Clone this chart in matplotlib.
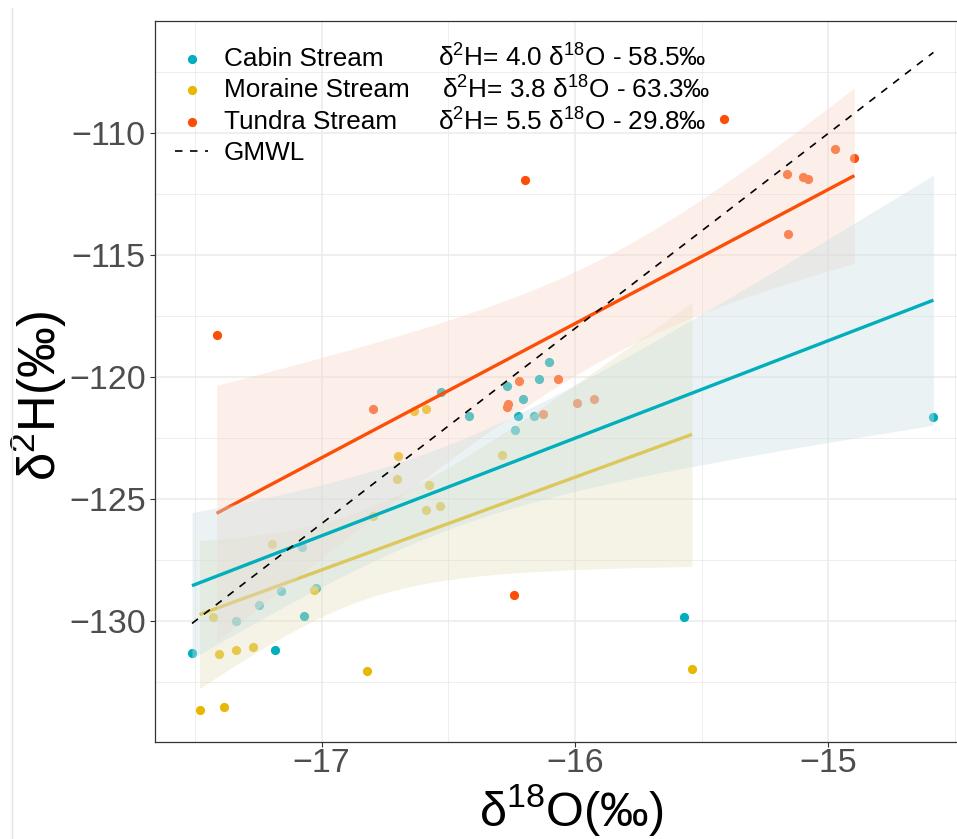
import numpy as np
import matplotlib
matplotlib.use("Agg")
import matplotlib.pyplot as plt
from matplotlib.lines import Line2D

plt.rcParams["font.family"] = ["Liberation Sans", "DejaVu Sans"]
plt.rcParams["mathtext.fontset"] = "custom"
plt.rcParams["mathtext.rm"] = "Liberation Sans"
plt.rcParams["mathtext.it"] = "Liberation Sans:italic"
plt.rcParams["mathtext.bf"] = "Liberation Sans:bold"
plt.rcParams["mathtext.default"] = "regular"

# stream water isotopes (per mil VSMOW)
cabin_d18o = [-17.512, -17.340, -17.246, -17.183, -17.161, -17.077, -17.070, -17.023, -16.527, -16.417,
              -16.270, -16.237, -16.225, -16.205, -16.162, -16.141, -16.103, -15.570, -14.585]
cabin_d2h = [-131.30, -130.00, -129.33, -131.19, -128.76, -126.96, -129.78, -128.66, -120.62, -121.60,
             -120.37, -122.17, -121.60, -120.91, -121.57, -120.09, -119.38, -129.84, -121.62]

moraine_d18o = [-17.482, -17.428, -17.405, -17.384, -17.338, -17.272, -17.197, -17.030, -16.821, -16.797,
                -16.704, -16.699, -16.635, -16.590, -16.587, -16.578, -16.532, -16.288, -15.538]
moraine_d2h = [-133.63, -129.85, -131.33, -133.53, -131.20, -131.08, -126.85, -128.72, -132.03, -125.69,
               -124.17, -123.21, -121.39, -121.32, -125.46, -124.41, -125.28, -123.17, -131.97]

tundra_d18o = [-17.415, -16.796, -16.268, -16.263, -16.240, -16.220, -16.197, -16.126, -16.066, -15.993,
               -15.923, -15.412, -15.162, -15.159, -15.101, -15.080, -14.974, -14.897]
tundra_d2h = [-118.27, -121.30, -121.23, -121.10, -128.94, -120.16, -111.92, -121.49, -120.07, -121.05,
              -120.88, -109.43, -111.67, -114.12, -111.80, -111.86, -110.63, -111.03]

streams = ["Cabin Stream", "Moraine Stream", "Tundra Stream"]
slopes = [4.0, 3.8, 5.5]
intercepts = [-58.5, -63.3, -29.8]
gmwl_slope, gmwl_intercept = 8.0, 10.0

colours = ["#00AFBB", "#E7B800", "#FC4E07"]
band_fills = ["#CCDFE2", "#E6E1C0", "#F8D8CA"]
t975 = {16: 2.120, 17: 2.110}
# fits are layered moraine first, then tundra, cabin on top
fit_order = [1, 2, 0]

# figure is laid out in pixels
W, H = 957, 839
fig = plt.figure(figsize=(W / 100, H / 100), dpi=100)
ax_l, ax_r, ax_t, ax_b = 155, 970.4, 20.7, 742.3
ax = fig.add_axes([ax_l / W, (H - ax_b) / H, (ax_r - ax_l) / W, (ax_b - ax_t) / H])


def ax_x(px):
    return (px - ax_l) / (ax_r - ax_l)


def ax_y(py):
    return (ax_b - py) / (ax_b - ax_t)


xs_all = [cabin_d18o, moraine_d18o, tundra_d18o]
ys_all = [cabin_d2h, moraine_d2h, tundra_d2h]

scatters = []
for xs, ys, name, col in zip(xs_all, ys_all, streams, colours):
    sc = ax.scatter(xs, ys, s=44, color=col, linewidths=0, label=name, zorder=2)
    scatters.append(sc)

# linear fits with 95% confidence band, band then line for each stream
z = 3
for i in fit_order:
    x = np.asarray(xs_all[i])
    y = np.asarray(ys_all[i])
    b, a = slopes[i], intercepts[i]
    n = len(x)
    s = np.sqrt(np.sum((y - (b * x + a)) ** 2) / (n - 2))
    grid = np.linspace(x.min(), x.max(), 100)
    half = t975[n - 2] * s * np.sqrt(1 / n + (grid - x.mean()) ** 2 / np.sum((x - x.mean()) ** 2))
    fit = b * grid + a
    ax.fill_between(grid, fit - half, fit + half, color=band_fills[i], alpha=0.4, lw=0, zorder=z)
    ax.plot(grid, fit, color=colours[i], lw=2.4, solid_capstyle="butt", zorder=z + 0.5)
    z += 1

all_x = np.concatenate([np.asarray(v) for v in xs_all])
gx = np.array([all_x.min(), all_x.max()])
gm, = ax.plot(gx, gmwl_slope * gx + gmwl_intercept, color="black", lw=1.2,
              linestyle=(0, (4.5, 4.5)), zorder=10, label="GMWL")

ax.set_xlim(-17.658, -14.439)
ax.set_ylim(-134.97, -105.38)
ax.set_xticks([-17, -16, -15])
ax.set_xticks([-17.5, -16.5, -15.5, -14.5], minor=True)
ax.set_yticks([-130, -125, -120, -115, -110])
ax.set_yticks([-132.5, -127.5, -122.5, -117.5, -112.5, -107.5], minor=True)
ax.grid(which="major", color="#EBEBEB", lw=1.1)
ax.grid(which="minor", color="#EBEBEB", lw=0.6)
ax.set_axisbelow(True)
ax.tick_params(which="major", length=3.6, width=0.8, color="#333333",
               labelcolor="#4D4D4D", labelsize=24.5)
ax.tick_params(axis="x", pad=0.5)
ax.tick_params(axis="y", pad=3)
ax.tick_params(which="minor", length=0)
for sp in ax.spines.values():
    sp.set_color("#333333")
    sp.set_linewidth(0.9)

ax.set_xlabel(r"δ$^{18}$O(‰)", fontsize=35)
ax.xaxis.label.set_va("bottom")
ax.xaxis.set_label_coords(ax_x(571), ax_y(838))
ax.set_ylabel(r"δ$^{2}$H(‰)", fontsize=36.5)
ax.yaxis.label.set_va("center")
ax.yaxis.set_label_coords(ax_x(39), ax_y(396))

leg = ax.legend(handles=scatters + [gm], labels=streams + ["GMWL"], loc="upper left",
                bbox_to_anchor=(ax_x(175), ax_y(47)), frameon=False, fontsize=18.8,
                handlelength=1.265, handletextpad=0.61, labelspacing=0.28,
                borderpad=0, borderaxespad=0, scatterpoints=1)

eq_x = [437.5, 442.5, 437.5]
eq_base = [67, 98.7, 130.3]
for b, a, px, py in zip(slopes, intercepts, eq_x, eq_base):
    label = "δ$^{2}$H= " + f"{b:.1f}" + " δ$^{18}$O - " + f"{abs(a):.1f}" + "‰"
    ax.text(ax_x(px), ax_y(py), label, transform=ax.transAxes, fontsize=18.8,
            ha="left", va="baseline", zorder=11)

fig.add_artist(Line2D([12 / W, 12 / W], [0, 1 - 8 / H], transform=fig.transFigure,
                      color="#E3E3E3", lw=1))

fig.savefig("out.png", dpi=100)
